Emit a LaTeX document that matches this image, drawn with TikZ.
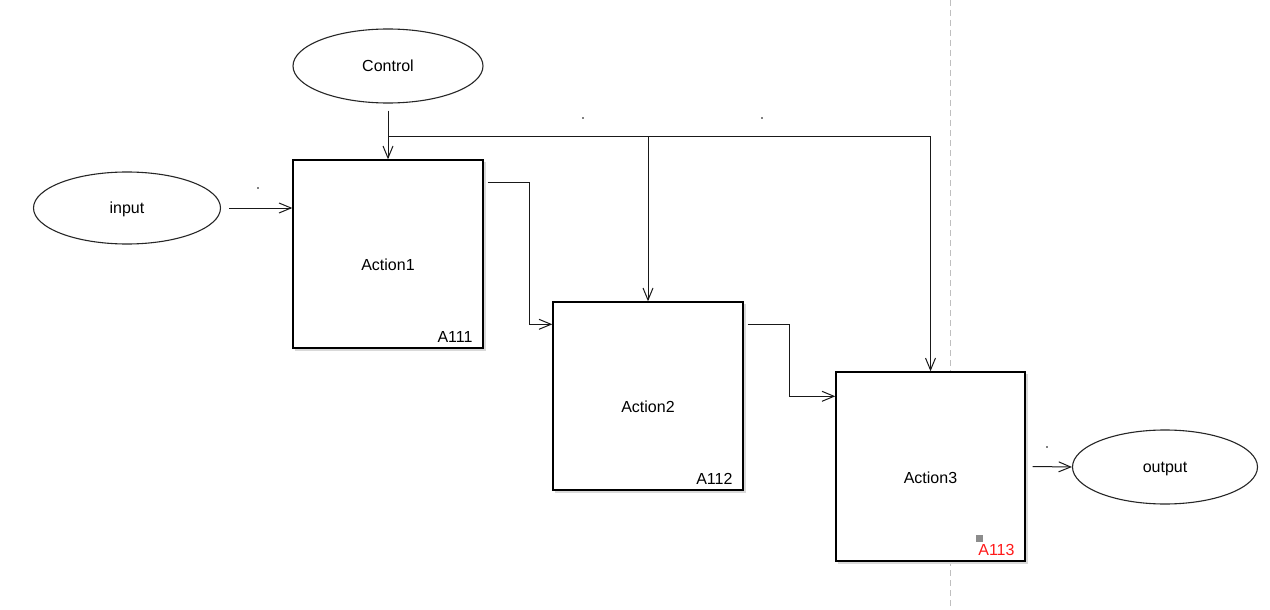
\documentclass[tikz,border=0pt]{standalone}
\usepackage{fontspec}
\setmainfont{Liberation Sans}
\usetikzlibrary{shapes.geometric,arrows.meta,calc}
\begin{document}
\begin{tikzpicture}[x=1pt,y=-1pt,
  txt/.style={font=\fontsize{16}{19}\selectfont},
  oval/.style={ellipse,draw=black!85,line width=1.1pt,minimum width=190pt,minimum height=74pt,inner sep=0pt,txt,text depth=0pt},
  actbox/.style={rectangle,draw=black,line width=1.4pt,minimum width=190pt,minimum height=188pt,inner sep=0pt,fill=white},
  shad/.style={fill=black!15},
  conn/.style={draw=black!90,line width=1pt},
  arr/.style={conn,-{Straight Barb[length=12pt,width=10pt,line width=1pt]}},
  lbl/.style={txt,anchor=south east,inner sep=0pt},
  tick/.style={fill=black,circle,inner sep=0pt,minimum size=1.6pt}
]
\useasboundingbox (0,0) rectangle (1270,610);
\fill[white] (0,0) rectangle (1270,610);
% dashed guide
\draw[black!25,line width=1pt,dash pattern=on 6pt off 4pt] (950,0) -- (950,610);
% shadows
\fill[shad] (295,162) rectangle (486,351);
\fill[shad] (555,304) rectangle (746,493);
\fill[shad] (838,374) rectangle (1028,564);
% ellipses
\node[oval] (ctrl) at (388,66) {Control};
\node[oval,minimum width=187pt,minimum height=72pt] (in) at (127,208) {input};
\node[oval,minimum width=185pt,minimum height=74pt] (out) at (1165,467) {output};
% boxes
\node[actbox] (b1) at (388,254) {};
\node[actbox] (b2) at (648,396) {};
\node[actbox,minimum width=189pt,minimum height=189pt] (b3) at (930.5,466.5) {};
\node[txt] (t1) at ([yshift=-11pt]b1.center) {Action1};
\node[txt] (t2) at ([yshift=-11pt]b2.center) {Action2};
\node[txt] (t3) at ([yshift=-11pt]b3.center) {Action3};
% labels
\node[lbl] (l1) at ([shift={(-11,-6)}]b1.south east) {A111};
\node[lbl] (l2) at ([shift={(-11,-6)}]b2.south east) {A112};
\node[lbl,text=red!90!white] (l3) at ([shift={(-11,-6)}]b3.south east) {A113};
\node[rectangle,fill=black!45,inner sep=0pt,minimum size=7pt] (sq) at (979,538) {};
% connectors
\coordinate (j) at ($(ctrl.south)+(0,33)$);
\draw[arr] ([yshift=-7pt]ctrl.south) -- (b1.north);
\draw[arr] (j) -| (b2.north);
\draw[arr] (j) -| (b3.north);
\draw[arr] ([xshift=8pt]in.east) -- (in.east -| b1.west);
\draw[arr] ([shift={(4,23)}]b1.north east) -- ([shift={(46,23)}]b1.north east) |- ([shift={(0,23)}]b2.north west);
\draw[arr] ([shift={(4,23)}]b2.north east) -- ([shift={(46,23)}]b2.north east) |- ([shift={(0,25)}]b3.north west);
\draw[arr] ([xshift=7pt]b3.east) -- (out.west);
% tiny marks
\node[tick] (m1) at (258,188) {};
\node[tick] (m2) at (583,118) {};
\node[tick] (m3) at (762,118) {};
\node[tick] (m4) at (1047,447) {};
\end{tikzpicture}
\end{document}
